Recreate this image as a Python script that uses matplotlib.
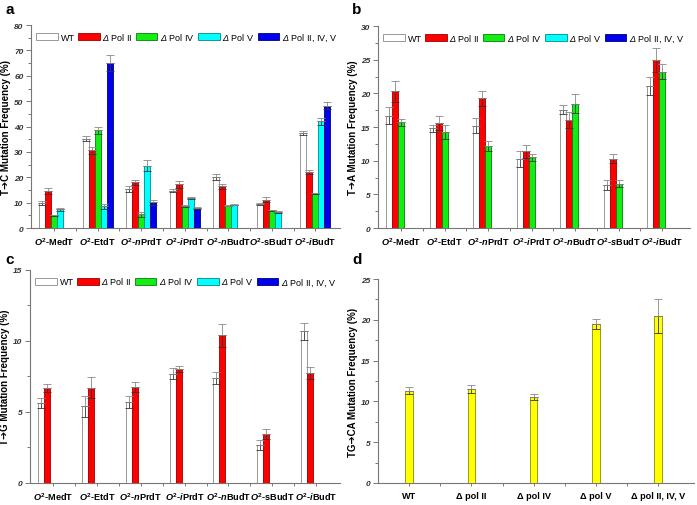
import matplotlib
matplotlib.use("Agg")
import matplotlib.pyplot as plt
import matplotlib.ticker as ticker
from matplotlib.patches import Patch
import numpy as np

plt.rcParams['font.family'] = ['Liberation Sans', 'DejaVu Sans']
plt.rcParams['mathtext.fontset'] = 'custom'
plt.rcParams['mathtext.it'] = 'Liberation Sans:italic:bold'
plt.rcParams['mathtext.rm'] = 'Liberation Sans:bold'
plt.rcParams['mathtext.bf'] = 'Liberation Sans:bold'
plt.rcParams['mathtext.sf'] = 'Liberation Sans:italic'

# ---- Data ----
compounds = [r'$O^2$-MedT', r'$O^2$-EtdT', r'$O^2$-$n$PrdT', r'$O^2$-$i$PrdT',
             r'$O^2$-$n$BudT', r'$O^2$-sBudT', r'$O^2$-$i$BudT']
compounds_b = [r'$O^2$-MedT', r'$O^2$-EtdT', r'$O^2$-$n$PrdT', r'$O^2$-$i$PrdT',
               r'$O^2$-$n$BudT', r'$O^2$-$s$BudT', r'$O^2$-$i$BudT']
strains = ['WT', r'$\mathsf{\Delta}$ Pol II', r'$\mathsf{\Delta}$ Pol IV',
           r'$\mathsf{\Delta}$ Pol V', r'$\mathsf{\Delta}$ Pol II, IV, V']
nan = np.nan

# panel a: T->C
tc_wt = [9.7, 35.2, 15.4, 14.7, 20.1, 9.3, 37.4]
tc_wt_err = [0.8, 1.0, 1.3, 0.6, 1.2, 0.4, 0.9]
tc_p2 = [14.5, 30.6, 18.0, 17.3, 16.4, 11.2, 22.2]
tc_p2_err = [1.1, 1.3, 0.9, 1.4, 1.1, 1.1, 0.8]
tc_p4 = [5.0, 38.5, 5.5, 8.7, 8.8, 7.0, 13.7]
tc_p4_err = [0.3, 1.3, 1.0, 0.3, 0.3, 0.3, 0.3]
tc_p5 = [7.4, 8.5, 24.6, 11.7, 9.2, 6.3, 42.0]
tc_p5_err = [0.5, 0.9, 2.2, 0.4, 0.3, 0.4, 1.5]
tc_p245 = [nan, 65.1, 10.2, 7.9, nan, nan, 48.3]
tc_p245_err = [nan, 3.0, 1.0, 0.3, nan, nan, 1.2]

# panel b: T->A
ta_wt = [16.7, 14.8, 15.2, 10.2, 17.6, 6.4, 21.1]
ta_wt_err = [1.3, 0.5, 1.1, 1.2, 0.7, 0.7, 1.4]
ta_p2 = [20.3, 15.6, 19.3, 11.4, 16.1, 10.3, 25.0]
ta_p2_err = [1.6, 1.0, 1.1, 1.0, 1.2, 0.7, 1.8]
ta_p4 = [15.7, 14.3, 12.2, 10.5, 18.5, 6.6, 23.2]
ta_p4_err = [0.5, 1.0, 0.8, 0.5, 1.4, 0.5, 1.1]

# panel c: T->G
tg_wt = [5.6, 5.4, 5.7, 7.7, 7.4, 2.65, 10.7]
tg_wt_err = [0.35, 0.75, 0.4, 0.4, 0.4, 0.35, 0.6]
tg_p2 = [6.7, 6.7, 6.75, 8.05, 10.4, 3.45, 7.75]
tg_p2_err = [0.3, 0.75, 0.35, 0.2, 0.8, 0.35, 0.45]

# panel d: TG->CA
d_labels = ['WT', 'Δ pol II', 'Δ pol IV', 'Δ pol V', 'Δ pol II, IV, V']
tgca = [11.3, 11.55, 10.55, 19.5, 20.5]
tgca_err = [0.45, 0.5, 0.4, 0.6, 2.1]

face = ['white', '#ff0000', '#11ee11', '#00ffff', '#0000ee']
edge = ['#888888', '#990000', '#117711', '#008888', '#000077']


def errbars(ax, x, y, e):
    y = np.array(y, float)
    e = np.array(e, float)
    z = np.zeros_like(e)
    ax.errorbar(x, y, yerr=[e, z], fmt='none', ecolor='#333333',
                elinewidth=0.6, capsize=3, capthick=0.6, zorder=4)
    ax.errorbar(x, y, yerr=[z, e], fmt='none', ecolor='#888888',
                elinewidth=0.6, capsize=3, capthick=0.6, zorder=4)


def style(ax, ymax, major, minor, xmin, xmax):
    for s in ['top', 'right']:
        ax.spines[s].set_visible(False)
    for s in ['left', 'bottom']:
        ax.spines[s].set_color('#777777')
        ax.spines[s].set_linewidth(0.8)
    ax.set_ylim(0, ymax)
    ax.set_xlim(xmin, xmax)
    ax.yaxis.set_major_locator(ticker.MultipleLocator(major))
    ax.yaxis.set_minor_locator(ticker.MultipleLocator(minor))
    ax.tick_params(axis='both', which='both', color='#777777', width=0.7)
    ax.tick_params(axis='y', which='major', length=3.5, labelsize=6, pad=2)
    ax.tick_params(axis='y', which='minor', length=2)
    ax.tick_params(axis='x', which='major', length=2.5, labelsize=6.6, pad=3)
    ax.tick_params(axis='x', which='minor', length=2.5)
    for t in ax.get_yticklabels():
        t.set_fontweight('bold')
        t.set_fontstyle('italic')
        t.set_color('#333333')
    for t in ax.get_xticklabels():
        t.set_fontweight('bold')


def grouped(ax, labels, series, errs, ymax, major, minor, ylabel, xmax):
    x = np.arange(len(labels))
    w = 0.137
    for k, (vals, err) in enumerate(zip(series, errs)):
        xs = x + (k - 2) * w
        ax.bar(xs, vals, width=w, color=face[k], edgecolor=edge[k],
               linewidth=0.6, zorder=3)
        errbars(ax, xs, vals, err)
    ax.set_xticks(x)
    ax.set_xticklabels(labels)
    ax.xaxis.set_minor_locator(ticker.FixedLocator(x[:-1] + 0.5))
    style(ax, ymax, major, minor, -0.53, xmax)
    ax.set_ylabel(ylabel, fontsize=7, fontweight='bold', labelpad=2)
    handles = [Patch(facecolor=face[k], edgecolor=edge[k], linewidth=0.6)
               for k in range(5)]
    ax.legend(handles, strains, loc='upper left', bbox_to_anchor=(0.0, 1.0),
              ncol=5, frameon=False, fontsize=6.5, handlelength=2.4,
              handleheight=0.75, handletextpad=0.3, columnspacing=0.35,
              borderaxespad=0.3, borderpad=0.3)


fig = plt.figure(figsize=(6.97, 5.06), dpi=100)
ax_a = fig.add_axes([0.0445, 0.5474, 0.443, 0.401])
ax_b = fig.add_axes([0.5423, 0.5474, 0.4476, 0.399])
ax_c = fig.add_axes([0.043, 0.0435, 0.445, 0.421])
ax_d = fig.add_axes([0.5423, 0.0435, 0.453, 0.403])

grouped(ax_a, compounds, [tc_wt, tc_p2, tc_p4, tc_p5, tc_p245],
        [tc_wt_err, tc_p2_err, tc_p4_err, tc_p5_err, tc_p245_err],
        80, 10, 5, 'T➔C Mutation Frequency (%)', 6.56)
grouped(ax_b, compounds_b, [ta_wt, ta_p2, ta_p4],
        [ta_wt_err, ta_p2_err, ta_p4_err],
        30, 5, 2.5, 'T➔A Mutation Frequency (%)', 6.64)
grouped(ax_c, compounds, [tg_wt, tg_p2],
        [tg_wt_err, tg_p2_err],
        15, 5, 2.5, 'T➔G Mutation Frequency (%)', 6.55)

# panel d
xd = np.arange(len(d_labels))
ax_d.bar(xd, tgca, width=0.12, color='#ffff00', edgecolor='#999922',
         linewidth=0.7, zorder=3)
errbars(ax_d, xd, tgca, tgca_err)
ax_d.set_xticks(xd)
ax_d.set_xticklabels(d_labels)
ax_d.xaxis.set_minor_locator(ticker.FixedLocator(xd[:-1] + 0.5))
style(ax_d, 25, 5, 2.5, -0.5, 4.57)
ax_d.set_ylabel('TG➔CA Mutation Frequency (%)', fontsize=7,
                fontweight='bold', labelpad=2)

for lbl, (px, py) in zip('abcd', [(5, 10), (352, 10), (5, 260), (352, 260)]):
    fig.text(px / 697, 1 - py / 506, lbl, fontsize=11, fontweight='bold',
             va='center', ha='left')

fig.savefig('out.png', dpi=100)
